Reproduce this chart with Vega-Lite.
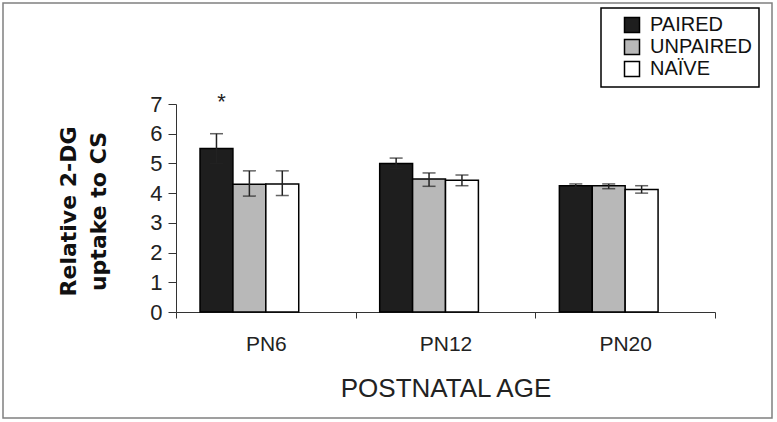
{
  "$schema": "https://vega.github.io/schema/vega-lite/v6.json",
  "width": 769,
  "height": 415,
  "autosize": {"type": "none"},
  "padding": {"left": 3, "top": 3, "right": 5, "bottom": 4},
  "background": "white",
  "config": {
    "view": {"stroke": "#808080", "strokeWidth": 1.5},
    "legend": {"strokeWidth": 1.5}
  },
  "data": {
    "values": [
      {"age": "PN6", "group": "PAIRED", "mean": 5.5, "lo": 5.0, "hi": 6.0, "sig": "*"},
      {"age": "PN6", "group": "UNPAIRED", "mean": 4.3, "lo": 3.9, "hi": 4.75, "sig": ""},
      {"age": "PN6", "group": "NAÏVE", "mean": 4.31, "lo": 3.92, "hi": 4.75, "sig": ""},
      {"age": "PN12", "group": "PAIRED", "mean": 5.0, "lo": 4.83, "hi": 5.18, "sig": ""},
      {"age": "PN12", "group": "UNPAIRED", "mean": 4.48, "lo": 4.23, "hi": 4.68, "sig": ""},
      {"age": "PN12", "group": "NAÏVE", "mean": 4.43, "lo": 4.25, "hi": 4.61, "sig": ""},
      {"age": "PN20", "group": "PAIRED", "mean": 4.25, "lo": 4.19, "hi": 4.31, "sig": ""},
      {"age": "PN20", "group": "UNPAIRED", "mean": 4.25, "lo": 4.15, "hi": 4.31, "sig": ""},
      {"age": "PN20", "group": "NAÏVE", "mean": 4.12, "lo": 4.0, "hi": 4.25, "sig": ""}
    ]
  },
  "encoding": {
    "x": {
      "field": "age",
      "type": "nominal",
      "sort": ["PN6", "PN12", "PN20"],
      "scale": {"range": [173, 712], "paddingInner": 0, "paddingOuter": 0},
      "axis": {
        "orient": "bottom",
        "offset": -106,
        "tickBand": "extent",
        "tickSize": 6,
        "tickColor": "#333",
        "domainColor": "#333",
        "labelAngle": 0,
        "labelPadding": 15,
        "labelFont": "Liberation Sans",
        "labelFontSize": 21,
        "labelColor": "#222",
        "title": "POSTNATAL AGE",
        "titleFont": "Liberation Sans",
        "titleFontSize": 26,
        "titleFontWeight": "normal",
        "titleColor": "#222",
        "titlePadding": 21
      }
    },
    "xOffset": {
      "field": "group",
      "type": "nominal",
      "scale": {"domain": ["PAIRED", "UNPAIRED", "NAÏVE", "-"], "paddingInner": 0, "paddingOuter": 0.73}
    },
    "y": {
      "type": "quantitative",
      "scale": {"domain": [0, 7], "range": [309, 101], "nice": false},
      "axis": {
        "offset": -173,
        "values": [0, 1, 2, 3, 4, 5, 6, 7],
        "grid": false,
        "tickSize": 8,
        "tickColor": "#333",
        "domainColor": "#333",
        "labelPadding": 6,
        "labelFont": "Liberation Sans",
        "labelFontSize": 22,
        "labelColor": "#222",
        "title": ["Relative 2-DG", "uptake to CS"],
        "titleFont": "DejaVu Sans",
        "titleFontSize": 22,
        "titleFontWeight": "bold",
        "titleColor": "#111",
        "titleX": -108,
        "titleY": 208,
        "titleAngle": 270,
        "titleAlign": "center",
        "titleBaseline": "middle",
        "titleLineHeight": 30
      }
    }
  },
  "layer": [
    {
      "mark": {"type": "bar", "stroke": "black", "strokeWidth": 1.5},
      "encoding": {
        "y": {"field": "mean"},
        "color": {
          "field": "group",
          "type": "nominal",
          "scale": {"domain": ["PAIRED", "UNPAIRED", "NAÏVE"], "range": ["#1e1e1e", "#b8b8b8", "#ffffff"]},
          "legend": {
            "orient": "none",
            "legendX": 598,
            "legendY": 5,
            "title": null,
            "strokeColor": "black",
            "padding": 7,
            "rowPadding": 0,
            "symbolType": "square",
            "symbolSize": 225,
            "symbolOffset": 14,
            "symbolStrokeColor": "black",
            "symbolStrokeWidth": 1.5,
            "symbolOpacity": 1,
            "labelOffset": 8,
            "labelFont": "Liberation Sans",
            "labelFontSize": 20,
            "labelColor": "#111",
            "labelExpr": "datum.label + '    '"
          }
        }
      }
    },
    {
      "mark": {"type": "rule", "color": "#222", "strokeWidth": 1.5},
      "encoding": {
        "y": {"field": "lo"},
        "y2": {"field": "hi"}
      }
    },
    {
      "mark": {"type": "tick", "orient": "horizontal", "color": "#222", "size": 13, "thickness": 1.5},
      "encoding": {"y": {"field": "hi"}}
    },
    {
      "mark": {"type": "tick", "orient": "horizontal", "color": "#222", "size": 13, "thickness": 1.5},
      "encoding": {"y": {"field": "lo"}}
    },
    {
      "transform": [{"filter": "datum.sig == '*'"}],
      "mark": {"type": "text", "dy": -25, "dx": 5, "baseline": "alphabetic", "font": "Liberation Sans", "fontSize": 22, "color": "#222"},
      "encoding": {
        "y": {"field": "hi"},
        "text": {"field": "sig"}
      }
    }
  ]
}
